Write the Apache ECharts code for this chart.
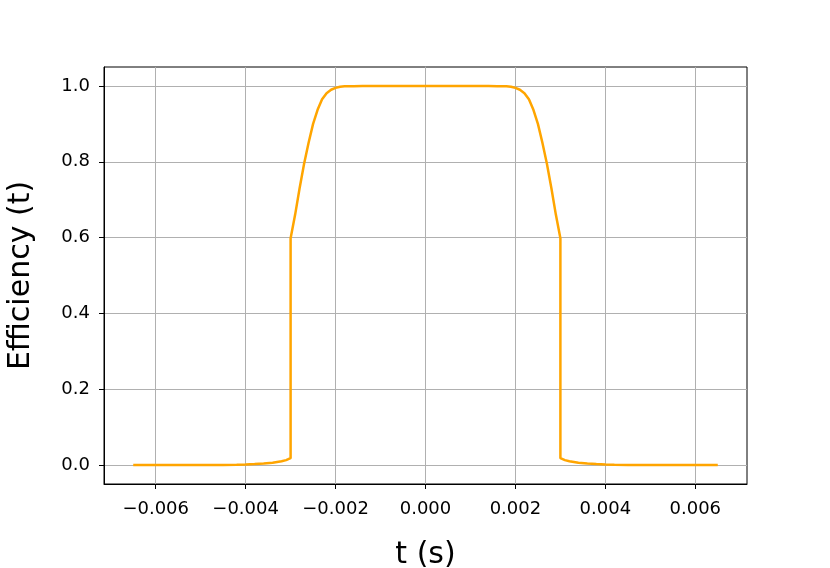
<!DOCTYPE html>
<html>
<head>
<meta charset="utf-8">
<script src="https://cdn.jsdelivr.net/npm/echarts@6/dist/echarts.min.js"></script>
<style>
  html, body { margin: 0; padding: 0; background: #fff; }
  #chart { width: 830px; height: 568px; }
</style>
</head>
<body>
<div id="chart"></div>
<script>
// Time values (s)
const tValues = [
  -0.0065, -0.0060, -0.0055, -0.0050, -0.0045, -0.0042, -0.0040, -0.0038, -0.0036, -0.0034,
  -0.0032, -0.0031, -0.0030, -0.0030, -0.0029, -0.0028, -0.0027, -0.0026, -0.0025, -0.0024,
  -0.0023, -0.0022, -0.0021, -0.0020, -0.0019, -0.0018, -0.0016, -0.0014, -0.0010, -0.0005,
  0.0000,
  0.0005, 0.0010, 0.0014, 0.0016, 0.0018, 0.0019, 0.0020, 0.0021, 0.0022, 0.0023,
  0.0024, 0.0025, 0.0026, 0.0027, 0.0028, 0.0029, 0.0030, 0.0030, 0.0031, 0.0032,
  0.0034, 0.0036, 0.0038, 0.0040, 0.0042, 0.0045, 0.0050, 0.0055, 0.0060, 0.0065
];
// Efficiency values
const effValues = [
  0.0, 0.0, 0.0, 0.0, 0.0003, 0.0008, 0.0015, 0.0025, 0.004, 0.006,
  0.010, 0.013, 0.018, 0.598, 0.66, 0.73, 0.795, 0.85, 0.90, 0.937,
  0.965, 0.981, 0.99, 0.995, 0.998, 0.999, 0.9995, 1.0, 1.0, 1.0,
  1.0,
  1.0, 1.0, 1.0, 0.9995, 0.999, 0.998, 0.995, 0.99, 0.981, 0.965,
  0.937, 0.90, 0.85, 0.795, 0.73, 0.66, 0.598, 0.018, 0.013, 0.010,
  0.006, 0.004, 0.0025, 0.0015, 0.0008, 0.0003, 0.0, 0.0, 0.0, 0.0
];
// Tick labels
const xTicks = [-0.006, -0.004, -0.002, 0.000, 0.002, 0.004, 0.006];
const yTicks = [0.0, 0.2, 0.4, 0.6, 0.8, 1.0];

const FONT = 'DejaVu Sans';
const chart = echarts.init(document.getElementById('chart'), null, { renderer: 'canvas' });

chart.setOption({
  animation: false,
  backgroundColor: '#ffffff',
  grid: {
    left: 104, right: 83, top: 67, bottom: 84,
    containLabel: false,
    outerBoundsMode: 'none',
    show: true, borderColor: '#000000', borderWidth: 1, backgroundColor: 'transparent'
  },
  xAxis: {
    type: 'value',
    min: -0.00715, max: 0.00715,
    name: 't (s)',
    nameLocation: 'middle',
    nameGap: 56,
    nameTextStyle: { fontFamily: FONT, fontSize: 30, color: '#000' },
    axisLine: { show: true, onZero: false, lineStyle: { color: '#000', width: 1 } },
    axisTick: { show: true, customValues: xTicks, length: 5, lineStyle: { color: '#000', width: 1 } },
    axisLabel: {
      customValues: xTicks,
      margin: 16,
      fontFamily: FONT, fontSize: 18, color: '#000',
      formatter: v => (v < 0 ? '\u2212' : '') + Math.abs(v).toFixed(3)
    },
    splitLine: { show: true, lineStyle: { color: '#b0b0b0', width: 1 } }
  },
  yAxis: {
    type: 'value',
    min: -0.05, max: 1.05,
    name: 'Efficiency (t)',
    nameLocation: 'middle',
    nameGap: 68,
    nameRotate: 90,
    nameTextStyle: { fontFamily: FONT, fontSize: 30, color: '#000' },
    axisLine: { show: true, onZero: false, lineStyle: { color: '#000', width: 1 } },
    axisTick: { show: true, customValues: yTicks, length: 5, lineStyle: { color: '#000', width: 1 } },
    axisLabel: {
      customValues: yTicks,
      margin: 14,
      fontFamily: FONT, fontSize: 18, color: '#000',
      formatter: v => v.toFixed(1)
    },
    splitLine: { show: true, lineStyle: { color: '#b0b0b0', width: 1 } }
  },
  series: [{
    type: 'line',
    data: tValues.map((t, i) => [t, effValues[i]]),
    showSymbol: false,
    smooth: false,
    lineStyle: { color: '#FFA500', width: 2.5 },
    itemStyle: { color: '#FFA500' }
  }]
});
</script>
</body>
</html>
